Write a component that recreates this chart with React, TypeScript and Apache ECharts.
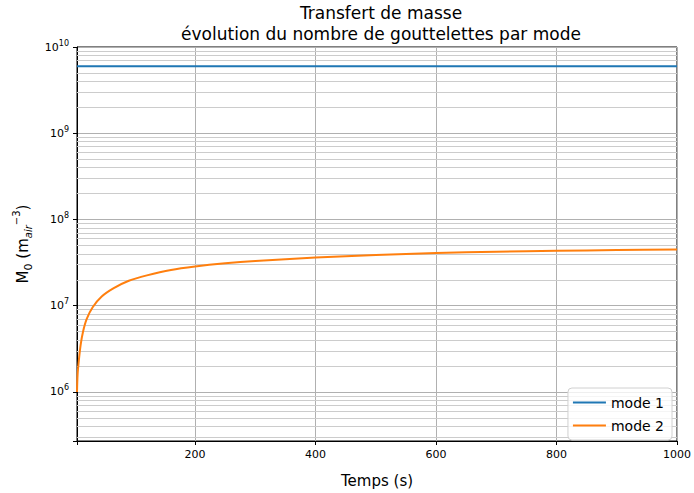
import React, { useEffect, useRef } from "react";
import * as echarts from "echarts";

const titleLines = ["Transfert de masse", "évolution du nombre de gouttelettes par mode"];
const seriesNames = ["mode 1", "mode 2"];

const mode1Times = [4, 1000];
const mode1Values = [6.0e9, 6.0e9];

const mode2Times = [4, 5, 7, 10, 14, 20, 30, 45, 65, 90, 120, 160, 200, 250, 300, 400, 500, 600, 700, 800, 900, 1000];
const mode2Values = [
  1.0e6, 1.6e6, 2.3e6, 3.5e6, 5.0e6, 7.0e6, 9.6e6, 1.28e7, 1.6e7, 1.95e7, 2.25e7, 2.6e7,
  2.85e7, 3.1e7, 3.3e7, 3.62e7, 3.88e7, 4.08e7, 4.22e7, 4.33e7, 4.42e7, 4.5e7,
];

const xMin = 4;
const xMax = 1000;
const yMin = 2.7e5;
const yMax = 1e10;

const minorMantissas = [2, 3, 4, 5, 6, 7, 8, 9];
const minorDecades = [1e5, 1e6, 1e7, 1e8, 1e9];

const FONT = "DejaVu Sans";

export default function App() {
  const ref = useRef<HTMLDivElement>(null);

  useEffect(() => {
    if (!ref.current) return;
    const chart = echarts.init(ref.current, undefined, { renderer: "svg" });

    const minorLines: { yAxis: number }[] = [];
    minorDecades.forEach((d) =>
      minorMantissas.forEach((m) => {
        const v = m * d;
        if (v > yMin && v < yMax) minorLines.push({ yAxis: v });
      })
    );

    const option: any = {
      animation: false,
      backgroundColor: "#fff",
      textStyle: { fontFamily: FONT },
      title: {
        text: titleLines.join("\n"),
        left: 381,
        textAlign: "center",
        top: 2,
        padding: 0,
        textStyle: {
          fontFamily: FONT,
          fontSize: 17,
          fontWeight: "normal",
          color: "#000",
          lineHeight: 21,
        },
      },
      grid: {
        left: 77,
        right: 14,
        top: 47,
        bottom: 46,
        show: true,
        borderColor: "#000",
        borderWidth: 1,
        backgroundColor: "transparent",
      },
      legend: {
        data: seriesNames,
        orient: "vertical",
        right: 22,
        bottom: 53,
        icon: "rect",
        itemWidth: 33,
        itemHeight: 2,
        itemGap: 6,
        padding: [6, 8, 6, 5],
        borderColor: "#d0d0d0",
        borderWidth: 1,
        borderRadius: 4,
        backgroundColor: "rgba(255,255,255,0.8)",
        textStyle: { fontFamily: FONT, fontSize: 14, color: "#000", lineHeight: 17 },
      },
      xAxis: {
        type: "value",
        min: xMin,
        max: xMax,
        splitNumber: 5,
        name: "Temps (s)",
        nameLocation: "middle",
        nameGap: 32,
        nameTextStyle: { fontFamily: FONT, fontSize: 15, color: "#000" },
        axisLine: { show: true, lineStyle: { color: "#000", width: 1 } },
        axisTick: { show: true, length: 4, lineStyle: { color: "#000" } },
        axisLabel: {
          color: "#000",
          fontFamily: FONT,
          fontSize: 11,
          margin: 8,
          formatter: (v: number) => (v % 200 === 0 ? String(v) : ""),
        },
        splitLine: { show: true, lineStyle: { color: "#b0b0b0", width: 1 } },
      },
      yAxis: {
        type: "log",
        logBase: 10,
        min: yMin,
        max: yMax,
        name: "{m|M}{sb|0}{m| (m}{sbi|air}{sp|−3}{m|)}",
        nameLocation: "middle",
        nameGap: 42,
        nameRotate: 90,
        nameTextStyle: {
          fontFamily: FONT,
          color: "#000",
          rich: {
            m: { fontFamily: FONT, fontSize: 15, color: "#000", lineHeight: 22 },
            sb: { fontFamily: FONT, fontSize: 11, color: "#000", verticalAlign: "bottom", lineHeight: 20 },
            sbi: { fontFamily: FONT, fontSize: 10, fontStyle: "italic", color: "#000", verticalAlign: "bottom", lineHeight: 20 },
            sp: { fontFamily: FONT, fontSize: 10, color: "#000", verticalAlign: "top", lineHeight: 14 },
          },
        },
        axisLine: { show: true, lineStyle: { color: "#000", width: 1 } },
        axisTick: { show: true, length: 4, lineStyle: { color: "#000" } },
        axisLabel: {
          color: "#000",
          margin: 8,
          formatter: (v: number) => {
            const l = Math.log10(v);
            const r = Math.round(l);
            if (Math.abs(l - r) > 0.01) return "";
            return `{b|10}{s|${r}}`;
          },
          rich: {
            b: { fontFamily: FONT, fontSize: 11, color: "#000", lineHeight: 16 },
            s: { fontFamily: FONT, fontSize: 8, color: "#000", verticalAlign: "top", lineHeight: 12 },
          },
        },
        splitLine: { show: true, lineStyle: { color: "#b0b0b0", width: 1 } },
      },
      series: [
        {
          name: "minor",
          type: "line",
          data: mode1Times.map((t, i) => [t, mode1Values[i]]),
          symbol: "none",
          lineStyle: { opacity: 0 },
          silent: true,
          z: 1,
          markLine: {
            silent: true,
            z: 1,
            symbol: ["none", "none"],
            label: { show: false },
            lineStyle: { color: "#cccccc", type: "solid", width: 1 },
            data: minorLines,
          },
        },
        {
          name: seriesNames[0],
          type: "line",
          data: mode1Times.map((t, i) => [t, mode1Values[i]]),
          symbol: "none",
          lineStyle: { color: "#1f77b4", width: 2 },
          itemStyle: { color: "#1f77b4" },
          z: 3,
        },
        {
          name: seriesNames[1],
          type: "line",
          data: mode2Times.map((t, i) => [t, mode2Values[i]]),
          symbol: "none",
          smooth: 0.3,
          lineStyle: { color: "#ff7f0e", width: 2 },
          itemStyle: { color: "#ff7f0e" },
          z: 3,
        },
      ],
    };

    chart.setOption(option);
    return () => chart.dispose();
  }, []);

  return (
    <div
      ref={ref}
      style={{ position: "fixed", left: 0, top: 0, width: 694, height: 493 }}
    />
  );
}
